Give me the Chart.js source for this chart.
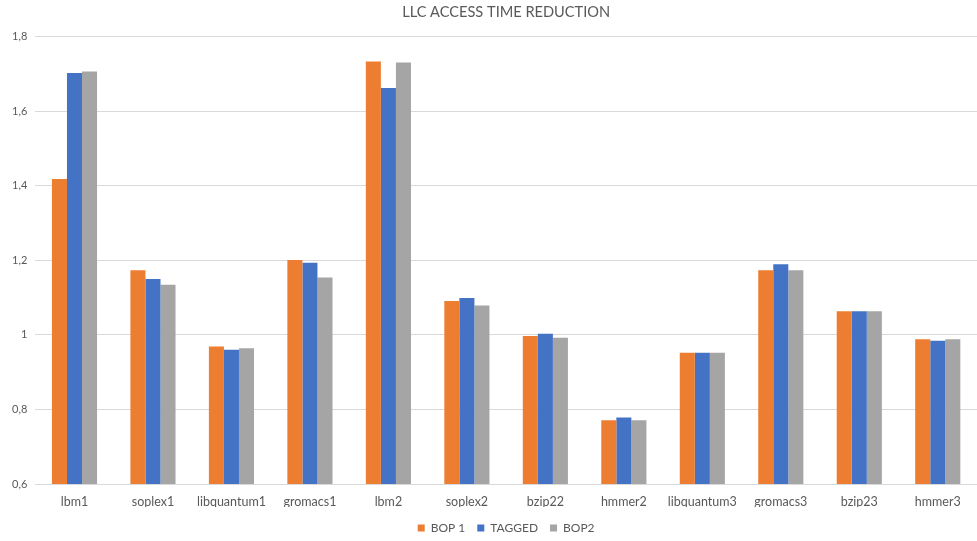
<!DOCTYPE html>
<html>
<head>
<meta charset="utf-8">
<script src="https://cdn.jsdelivr.net/npm/chart.js@4/dist/chart.umd.min.js"></script>
<style>
  html, body { margin: 0; padding: 0; background: #ffffff; }
  #wrap { width: 977px; height: 541px; position: relative; }
</style>
</head>
<body>
<div id="wrap"><canvas id="chart" width="977" height="541"></canvas></div>
<script>
// Benchmarks and measured access-time ratios per prefetcher
const categories = ['lbm1', 'soplex1', 'libquantum1', 'gromacs1', 'lbm2', 'soplex2',
  'bzip22', 'hmmer2', 'libquantum3', 'gromacs3', 'bzip23', 'hmmer3'];
const bop1   = [1.418, 1.173, 0.969, 1.201, 1.733, 1.091, 0.997, 0.771, 0.952, 1.173, 1.063, 0.988];
const tagged = [1.702, 1.150, 0.960, 1.193, 1.662, 1.099, 1.003, 0.778, 0.952, 1.189, 1.063, 0.984];
const bop2   = [1.706, 1.134, 0.964, 1.154, 1.730, 1.079, 0.992, 0.771, 0.952, 1.173, 1.063, 0.988];
const seriesNames = ['BOP 1', 'TAGGED', 'BOP2'];
const yTicks = [0.6, 0.8, 1.0, 1.2, 1.4, 1.6, 1.8];

const textColor = '#595959';
const fontFamily = 'Lato, "Open Sans", sans-serif';

// Nudge the legend down a few pixels after layout so it sits near the canvas bottom
const legendNudge = {
  id: 'legendNudge',
  afterLayout(chart) {
    const lg = chart.legend;
    if (lg) { lg.top += 3; lg.bottom += 3; }
  }
};

new Chart(document.getElementById('chart'), {
  type: 'bar',
  data: {
    labels: categories,
    datasets: [
      { label: seriesNames[0], data: bop1,   backgroundColor: '#ED7D31' },
      { label: seriesNames[1], data: tagged, backgroundColor: '#4472C4' },
      { label: seriesNames[2], data: bop2,   backgroundColor: '#A5A5A5' }
    ]
  },
  plugins: [legendNudge],
  options: {
    responsive: false,
    animation: false,
    devicePixelRatio: 1,
    layout: { padding: { left: 4, right: 0, top: 4, bottom: 0 } },
    datasets: { bar: { categoryPercentage: 0.575, barPercentage: 1.0 } },
    plugins: {
      title: {
        display: true,
        fullSize: false,
        text: 'LLC ACCESS TIME REDUCTION',
        color: textColor,
        font: { family: fontFamily, size: 14.6, weight: 'normal' },
        padding: { top: 0, bottom: 15 }
      },
      legend: {
        position: 'bottom',
        fullSize: false,
        labels: {
          color: textColor,
          font: { family: fontFamily, size: 12 },
          boxWidth: 7,
          boxHeight: 7,
          padding: 12
        }
      },
      tooltip: { enabled: false }
    },
    scales: {
      x: {
        grid: { display: false, drawTicks: false },
        border: { display: false },
        afterFit: (scale) => { scale.height -= 12; },
        ticks: {
          color: textColor,
          font: { family: fontFamily, size: 12.5 },
          padding: 10,
          maxRotation: 0,
          autoSkip: false
        }
      },
      y: {
        min: yTicks[0],
        max: yTicks[yTicks.length - 1],
        afterBuildTicks: (axis) => { axis.ticks = yTicks.map(v => ({ value: v })); },
        grid: { color: '#d9d9d9', lineWidth: 1, drawTicks: false },
        border: { display: false },
        ticks: {
          color: textColor,
          font: { family: fontFamily, size: 11 },
          padding: 8,
          callback: (v) => String(Math.round(v * 10) / 10).replace('.', ',')
        }
      }
    }
  }
});
</script>
</body>
</html>
